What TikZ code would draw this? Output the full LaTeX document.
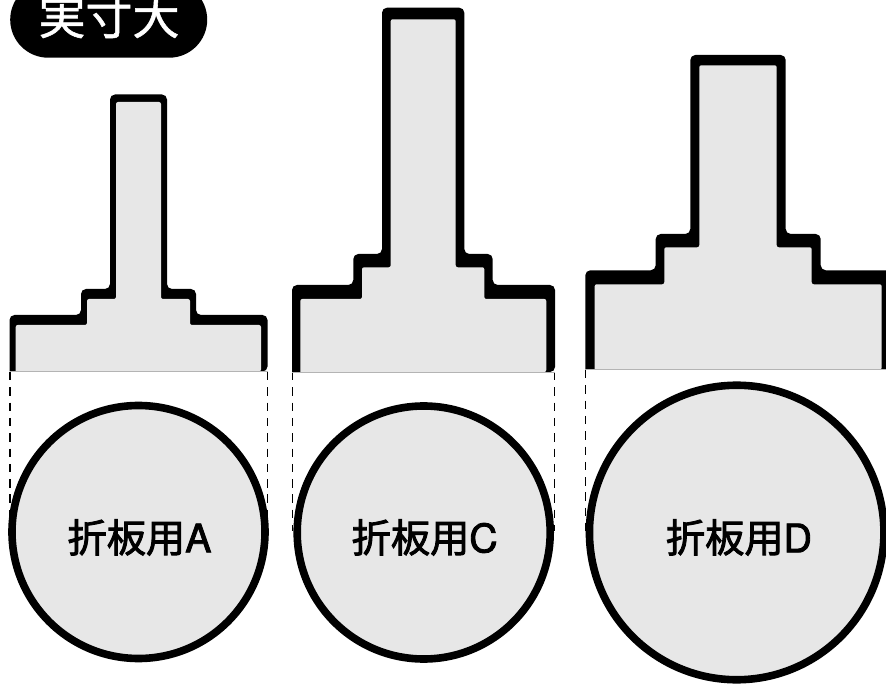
\documentclass[tikz,border=0pt]{standalone}
\usepackage{fontspec}
\usetikzlibrary{shapes.misc}
\newfontfamily\jpf{Noto Sans CJK JP}[FakeBold=2.2]
\newfontfamily\jpw{Noto Sans CJK JP}[FakeBold=1.2]
\newfontfamily\latf{TeX Gyre Heros}[FakeBold=2.2]
\definecolor{panel}{HTML}{E7E7E7}
\definecolor{edge}{HTML}{B4B4B4}
\tikzset{
  outerpart/.style={fill=black,rounded corners=5pt},
  innerpart/.style={fill=panel,rounded corners=2pt},
  baseline rule/.style={draw=edge,line width=0.8pt},
  guide/.style={draw=black,line width=1.2pt,dash pattern=on 8.5pt off 6.8pt},
  disc/.style={circle,draw=black,fill=panel,line width=7.6pt,inner sep=0pt},
  tag/.style={inner sep=0pt,text=black},
}
\begin{document}
\begin{tikzpicture}[x=1pt,y=-1pt]
\useasboundingbox (0,0) rectangle (886,684);
% guides
\coordinate (a1) at (10,372);   \coordinate (a2) at (10,530);
\coordinate (a3) at (267.5,372);\coordinate (a4) at (267.5,530);
\coordinate (c1) at (292.4,372);\coordinate (c2) at (292.4,530.5);
\coordinate (c3) at (554.7,372);\coordinate (c4) at (554.7,530.5);
\coordinate (d1) at (585.4,370);\coordinate (d2) at (585.4,530.5);
\draw[guide] (a1)--(a2); \draw[guide] (a3)--(a4);
\draw[guide] (c1)--(c2); \draw[guide] (c3)--(c4);
\draw[guide] (d1)--(d2);
% shape A
\path[outerpart] (9.5,371.5)--(9.5,315)--(81,315)--(81,289)--(110,289)--(110,94.5)--(167,94.5)--(167,289)--(196,289)--(196,315)--(267.5,315)--(267.5,371.5)[sharp corners]--cycle;
\path[innerpart] (15.7,371.5)--(15.7,325)--(87,325)--(87,299)--(116,299)--(116,102)--(161,102)--(161,299)--(190,299)--(190,325)--(261,325)--(261,371.5)[sharp corners]--cycle;
\draw[baseline rule] (9.5,371.5)--(267.5,371.5);
% shape C
\path[outerpart] (292,372)--(292,285)--(353.3,285)--(353.3,254)--(382,254)--(382,7.7)--(464.3,7.7)--(464.3,254)--(492.7,254)--(492.7,285)--(555,285)--(555,372)[sharp corners]--cycle;
\path[innerpart] (300.3,372)--(300.3,299)--(362,299)--(362,267.3)--(390.7,267.3)--(390.7,19.3)--(455.7,19.3)--(455.7,267.3)--(484.3,267.3)--(484.3,299)--(546.3,299)--(546.3,372)[sharp corners]--cycle;
\draw[baseline rule] (292,372)--(555,372);
% shape D
\path[outerpart] (585.3,369.5)--(585.3,270.3)--(655.7,270.3)--(655.7,234)--(690.3,234)--(690.3,55)--(785.7,55)--(785.7,234)--(820.7,234)--(820.7,270.3)--(895,270.3)--(895,369.5)[sharp corners]--cycle;
\path[innerpart] (594.7,369.5)--(594.7,284.3)--(664.3,284.3)--(664.3,247.3)--(699.3,247.3)--(699.3,65.3)--(776.7,65.3)--(776.7,247.3)--(811.7,247.3)--(811.7,284.3)--(881.7,284.3)--(881.7,369.5)[sharp corners]--cycle;
\draw[baseline rule] (585.3,369.5)--(886,369.5);
% discs
\node[disc,minimum size=253pt] (da) at (138.5,532) {};
\node[disc,minimum size=253pt] (dc) at (423.7,532.5) {};
\node[disc,minimum size=294.5pt] (dd) at (736.7,532.5) {};
% labels
\node[tag,font=\fontsize{39.2}{39.2}\selectfont] (la) at (139.5,537.5) {\jpf 折板用\latf A};
\node[tag,font=\fontsize{39.2}{39.2}\selectfont] (lc) at (424.7,537.5) {\jpf 折板用\latf C};
\node[tag,font=\fontsize{39.2}{39.2}\selectfont] (ld) at (739,537.5) {\jpf 折板用\latf D};
% badge
\node[rounded rectangle,fill=black,minimum width=197pt,minimum height=76pt,inner sep=0pt,outer sep=0pt] (badge) at (108.7,19.7) {};
\node[text=white,inner sep=0pt,font=\fontsize{47}{47}\selectfont] (bt) at (109,16.5) {\jpw 実寸大};
\end{tikzpicture}
\end{document}
